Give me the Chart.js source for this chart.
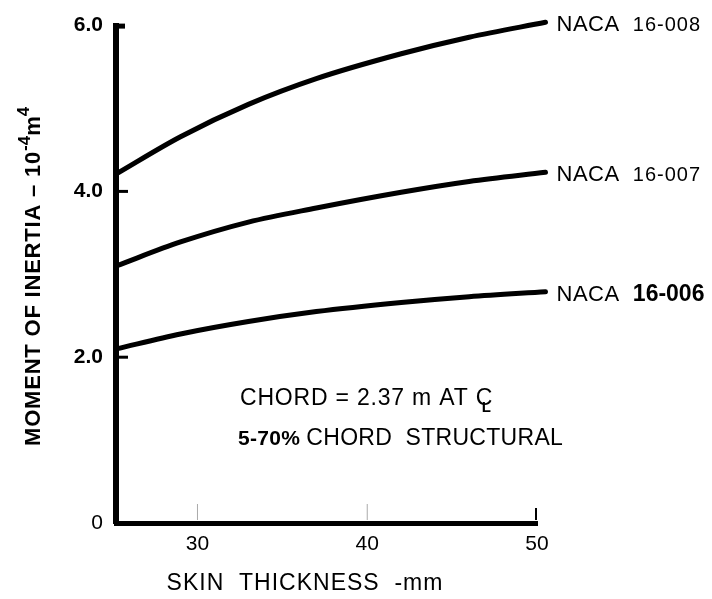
<!DOCTYPE html>
<html>
<head>
<meta charset="utf-8">
<script src="https://cdn.jsdelivr.net/npm/chart.js@4"></script>
<style>
  html, body { margin: 0; padding: 0; background: #fff; }
  #wrap { width: 712px; height: 599px; }
</style>
</head>
<body>
<div id="wrap"><canvas id="myChart" width="712" height="599"></canvas></div>
<script>
// skin thickness (mm) where the curves were read
const thickness = [25.2, 29, 33, 37, 42, 46, 50.5];

// moment of inertia, 10^-4 m^4
const naca008 = [4.21, 4.66, 5.05, 5.36, 5.66, 5.86, 6.04];
const naca007 = [3.10, 3.39, 3.63, 3.80, 3.99, 4.12, 4.23];
const naca006 = [2.10, 2.28, 2.43, 2.55, 2.66, 2.73, 2.79];

const xTicks = [30, 40, 50];
const yTicks = [0, 2, 4, 6];

const seriesNames = ["16-008", "16-007", "16-006"];

const FONT = "'Liberation Sans', Arial, sans-serif";

function pts(ys) {
    return thickness.map((x, i) => ({ x: x, y: ys[i] }));
}

function line(label, ys) {
    return {
        label: label,
        data: pts(ys),
        borderColor: "#000",
        borderWidth: 5,
        borderCapStyle: "round",
        pointRadius: 0,
        cubicInterpolationMode: "monotone",
        clip: false
    };
}

// text with a bit of tracking, returns its width
function spaced(ctx, text, x, y, sp) {
    ctx.letterSpacing = sp + "px";
    ctx.fillText(text, x, y);
    const w = ctx.measureText(text).width;
    ctx.letterSpacing = "0px";
    return w;
}

// 🖊 labels, inward ticks, titles
const extras = {
    id: "extras",
    afterDraw(chart) {
        const ctx = chart.ctx;
        const xs = chart.scales.x;
        const ys = chart.scales.y;
        const left = chart.chartArea.left;
        const bottom = chart.chartArea.bottom;

        ctx.save();
        ctx.fillStyle = "#000";
        ctx.strokeStyle = "#000";

        // y ticks (inside)
        ctx.lineWidth = 3;
        [2, 4].forEach(v => {
            const y = ys.getPixelForValue(v);
            ctx.beginPath();
            ctx.moveTo(left, y);
            ctx.lineTo(left + 12, y);
            ctx.stroke();
        });
        ctx.fillRect(left - 3, ys.getPixelForValue(6) - 2, 12, 5);

        // x ticks (inside)
        ctx.lineWidth = 1;
        ctx.strokeStyle = "#aaa";
        [30, 40].forEach(v => {
            const x = xs.getPixelForValue(v);
            ctx.beginPath();
            ctx.moveTo(x, bottom - 19);
            ctx.lineTo(x, bottom - 3);
            ctx.stroke();
        });
        ctx.strokeStyle = "#000";
        ctx.lineWidth = 2;
        const x50 = xs.getPixelForValue(50) - 1;
        ctx.beginPath();
        ctx.moveTo(x50, bottom - 15);
        ctx.lineTo(x50, bottom - 3);
        ctx.stroke();

        // curve labels
        ctx.textBaseline = "middle";
        ctx.textAlign = "left";
        chart.data.datasets.forEach((ds, i) => {
            const meta = chart.getDatasetMeta(i);
            const p = meta.data[meta.data.length - 1];
            const x = p.x + 11;
            const y = p.y + 3;
            ctx.font = "22px " + FONT;
            const w = spaced(ctx, "NACA  ", x, y, 0.5);
            ctx.font = (i === 2 ? "bold 23px " : "20px ") + FONT;
            spaced(ctx, seriesNames[i], x + w, y, i === 2 ? 0 : 1);
        });

        // notes
        ctx.font = "23px " + FONT;
        const w1 = spaced(ctx, "CHORD = 2.37 m AT ", 240, 399, 0.8);
        // centre-line mark: C with an L through it
        spaced(ctx, "C", 240 + w1, 399, 0);
        ctx.font = "bold 15px " + FONT;
        spaced(ctx, "L", 240 + w1 + 6, 408, 0);
        ctx.font = "bold 21px " + FONT;
        const w2 = spaced(ctx, "5-70% ", 238, 439, 0.3);
        ctx.font = "23px " + FONT;
        spaced(ctx, "CHORD  STRUCTURAL", 238 + w2, 439, 0.3);

        // x title
        ctx.textAlign = "center";
        ctx.font = "23px " + FONT;
        spaced(ctx, "SKIN  THICKNESS  -mm", 305, 584, 1);

        // y title, reads bottom to top
        ctx.textAlign = "left";
        ctx.translate(34, 446);
        ctx.rotate(-Math.PI / 2);
        ctx.font = "bold 22px " + FONT;
        let cx = spaced(ctx, "MOMENT OF INERTIA \u2013 10", 0, 0, 0.8);
        ctx.font = "bold 17px " + FONT;
        cx += spaced(ctx, "-4", cx, -9, 0);
        ctx.font = "bold 22px " + FONT;
        cx += spaced(ctx, "m", cx, 0, 0);
        ctx.font = "bold 17px " + FONT;
        spaced(ctx, "4", cx, -10, 0);
        ctx.restore();
    }
};

window.addEventListener("load", function () {
    const ctx = document.getElementById("myChart").getContext("2d");

    new Chart(ctx, {
        type: "line",
        data: {
            datasets: [
                line("NACA 16-008", naca008),
                line("NACA 16-007", naca007),
                line("NACA 16-006", naca006)
            ]
        },
        options: {
            responsive: false,
            animation: false,
            layout: { padding: { top: 22, right: 175, left: 0, bottom: 0 } },
            plugins: {
                legend: { display: false },
                tooltip: { enabled: false }
            },
            scales: {
                x: {
                    type: "linear",
                    min: 25.2,
                    max: 50,
                    afterBuildTicks: s => { s.ticks = xTicks.map(v => ({ value: v })); },
                    afterFit: s => { s.height = 76; },
                    grid: { display: false, drawTicks: false },
                    border: { display: true, color: "#000", width: 5 },
                    ticks: {
                        padding: 9,
                        color: "#000",
                        font: { family: FONT, size: 21 },
                        maxRotation: 0
                    }
                },
                y: {
                    type: "linear",
                    min: 0,
                    max: 6,
                    afterBuildTicks: s => { s.ticks = yTicks.map(v => ({ value: v })); },
                    afterFit: s => { s.width = 116; },
                    grid: { display: false, drawTicks: false },
                    border: { display: true, color: "#000", width: 6 },
                    ticks: {
                        padding: 13,
                        color: "#000",
                        font: c => ({
                            family: FONT,
                            size: 21,
                            weight: c.tick && c.tick.value !== 0 ? "bold" : "normal"
                        }),
                        callback: v => v === 0 ? "0" : v.toFixed(1)
                    }
                }
            }
        },
        plugins: [extras]
    });
});
</script>
</body>
</html>
